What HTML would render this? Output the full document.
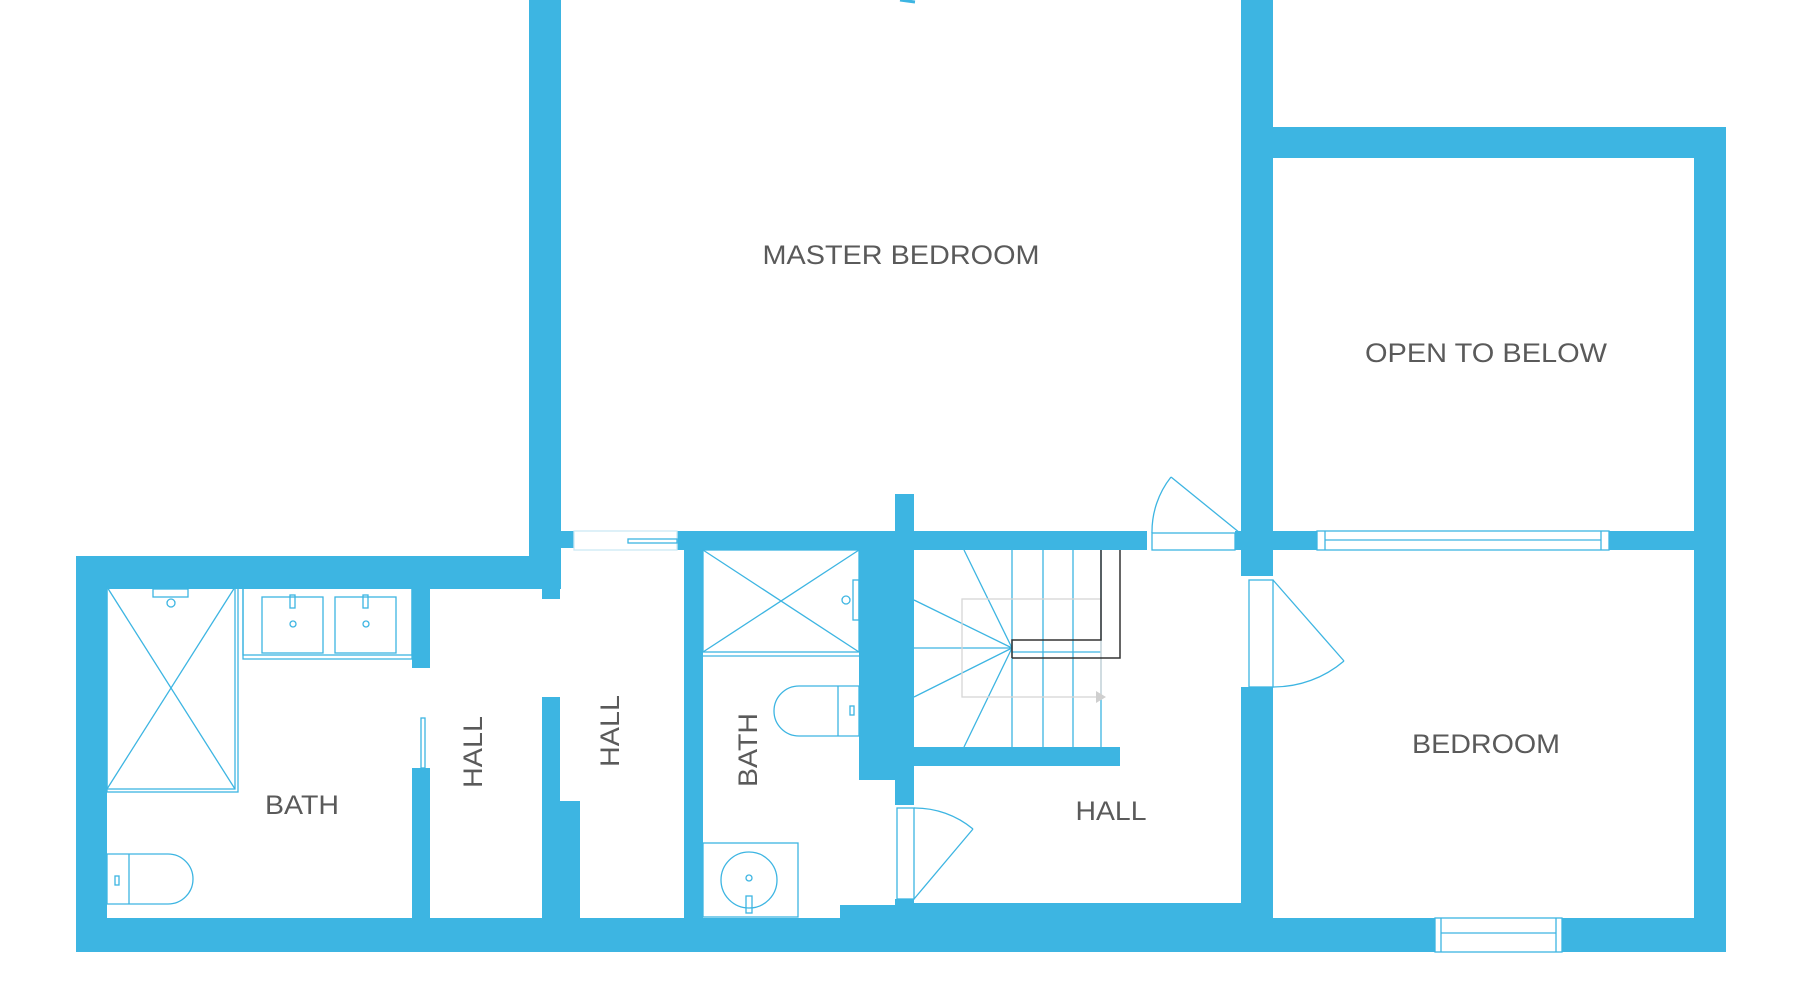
<!DOCTYPE html>
<html><head><meta charset="utf-8"><style>
html,body{margin:0;padding:0;background:#fff;width:1800px;height:1000px;overflow:hidden}
svg{display:block}
text{font-family:"Liberation Sans",sans-serif;fill:#5a5a5a}
</style></head><body>
<svg width="1800" height="1000" viewBox="0 0 1800 1000" xmlns="http://www.w3.org/2000/svg">
<g fill="#3db5e2">
<rect x="529" y="0" width="32" height="556"/>
<rect x="1241" y="0" width="32" height="576"/>
<rect x="1241" y="687" width="32" height="265"/>
<rect x="1241" y="127" width="485" height="31"/>
<rect x="1694" y="127" width="32" height="825"/>
<rect x="1273" y="531" width="44" height="19"/>
<rect x="1609" y="531" width="85" height="19"/>
<rect x="677" y="531" width="470" height="19"/>
<rect x="1235" y="531" width="6" height="19"/>
<rect x="561" y="531" width="13" height="17"/>
<rect x="895" y="494" width="19" height="40"/>
<rect x="76" y="556" width="485" height="33"/>
<rect x="76" y="556" width="31" height="396"/>
<rect x="76" y="918" width="1650" height="34"/>
<rect x="412" y="587" width="18" height="81"/>
<rect x="412" y="768" width="18" height="150"/>
<rect x="542" y="556" width="18" height="43"/>
<rect x="542" y="697" width="18" height="221"/>
<rect x="542" y="801" width="38" height="117"/>
<rect x="684" y="531" width="19" height="387"/>
<rect x="859" y="550" width="55" height="230"/>
<rect x="895" y="780" width="19" height="25"/>
<rect x="895" y="899" width="19" height="19"/>
<rect x="840" y="905" width="60" height="13"/>
<rect x="914" y="747" width="206" height="19"/>
<rect x="914" y="903" width="327" height="15"/>
</g>
<g fill="#fff" stroke="#3db5e2" stroke-width="1.3">
<rect x="574" y="531" width="103" height="19" stroke="#cde9f3"/>
<rect x="628" y="539" width="49" height="4"/>
<rect x="1317" y="531" width="292" height="19"/>
<rect x="1435" y="918" width="127" height="34"/>
<rect x="1152" y="533" width="83" height="17"/>
<rect x="1249" y="580" width="24" height="107"/>
<rect x="897" y="808" width="17" height="91"/>
</g>
<g fill="none" stroke="#3db5e2" stroke-width="1.3">
<line x1="1325" y1="540" x2="1601" y2="540"/>
<line x1="1325" y1="531" x2="1325" y2="550"/><line x1="1601" y1="531" x2="1601" y2="550"/>
<line x1="1441" y1="933" x2="1556" y2="933"/>
<line x1="1441" y1="918" x2="1441" y2="952"/><line x1="1556" y1="918" x2="1556" y2="952"/>
<line x1="1240" y1="533" x2="1171" y2="477"/>
<path d="M1171 477 A 88 88 0 0 0 1152 533"/>
<line x1="1273" y1="580" x2="1344" y2="661"/>
<path d="M1344 661 A 108 108 0 0 1 1273 687"/>
<line x1="914" y1="899" x2="973" y2="829"/>
<path d="M914 808 A 91 91 0 0 1 973 829"/>
<rect x="421" y="718" width="4" height="50"/>
<rect x="107" y="587" width="128" height="202"/>
<rect x="107" y="587" width="131" height="205"/>
<line x1="107" y1="587" x2="235" y2="789"/><line x1="235" y1="587" x2="107" y2="789"/>
<rect x="153" y="589" width="35" height="8"/><circle cx="171" cy="603" r="4"/>
<rect x="243" y="587" width="169" height="72"/>
<rect x="243" y="587" width="169" height="68"/>
<rect x="262" y="597" width="61" height="56"/><rect x="335" y="597" width="61" height="56"/>
<rect x="290" y="595" width="5" height="13"/><rect x="363" y="595" width="5" height="13"/>
<circle cx="293" cy="624" r="3"/><circle cx="366" cy="624" r="3"/>
<path d="M107 854 H 168 A 25 25 0 0 1 168 904 H 107 Z"/>
<line x1="129" y1="854" x2="129" y2="904"/>
<rect x="115" y="876" width="4" height="9"/>
<rect x="703" y="550" width="156" height="102"/>
<line x1="703" y1="656" x2="859" y2="656"/>
<line x1="703" y1="550" x2="859" y2="652"/><line x1="859" y1="550" x2="703" y2="652"/>
<rect x="853" y="580" width="6" height="40"/><circle cx="846" cy="600" r="4"/>
<path d="M859 686 H 799 A 25 25 0 0 0 799 736 H 859 Z"/>
<line x1="838" y1="686" x2="838" y2="736"/>
<rect x="850" y="706" width="4" height="9"/>
<rect x="703" y="843" width="95" height="74"/>
<circle cx="749" cy="880" r="28"/><circle cx="749" cy="878" r="3"/>
<rect x="746" y="896" width="6" height="17"/>
<line x1="1012" y1="550" x2="1012" y2="747"/>
<line x1="1043" y1="550" x2="1043" y2="747"/>
<line x1="1073" y1="550" x2="1073" y2="747"/>
<line x1="1101" y1="550" x2="1101" y2="747"/>
<line x1="1012" y1="648" x2="964" y2="550"/>
<line x1="1012" y1="648" x2="914" y2="600"/>
<line x1="1012" y1="648" x2="914" y2="648"/>
<line x1="1012" y1="648" x2="914" y2="697"/>
<line x1="1012" y1="648" x2="964" y2="747"/>
<line x1="1012" y1="652" x2="1101" y2="652"/>
</g>
<g fill="none" stroke="#d6d6d6" stroke-width="1.3">
<rect x="962" y="599" width="139" height="98"/>
</g>
<polygon points="1096,691 1106,697 1096,703" fill="#cfcfcf"/>
<g fill="none" stroke="#333" stroke-width="1.5">
<polyline points="1012,658 1012,640 1101,640 1101,550"/>
<polyline points="1012,658 1120,658 1120,550"/>
</g>
<text x="901" y="264" font-size="27" text-anchor="middle" textLength="277" lengthAdjust="spacingAndGlyphs">MASTER BEDROOM</text>
<text x="1486" y="362" font-size="27" text-anchor="middle" textLength="242" lengthAdjust="spacingAndGlyphs">OPEN TO BELOW</text>
<text x="1486" y="753" font-size="27" text-anchor="middle" textLength="148" lengthAdjust="spacingAndGlyphs">BEDROOM</text>
<text x="1111" y="820" font-size="27" text-anchor="middle" textLength="71" lengthAdjust="spacingAndGlyphs">HALL</text>
<text x="302" y="814" font-size="27" text-anchor="middle" textLength="74" lengthAdjust="spacingAndGlyphs">BATH</text>
<text transform="translate(482,752) rotate(-90)" font-size="27" text-anchor="middle" textLength="72" lengthAdjust="spacingAndGlyphs">HALL</text>
<text transform="translate(619,731) rotate(-90)" font-size="27" text-anchor="middle" textLength="72" lengthAdjust="spacingAndGlyphs">HALL</text>
<text transform="translate(757,750) rotate(-90)" font-size="27" text-anchor="middle" textLength="74" lengthAdjust="spacingAndGlyphs">BATH</text>
<path d="M900 0 L 915 2" stroke="#3db5e2" stroke-width="3"/>
</svg>
</body></html>
